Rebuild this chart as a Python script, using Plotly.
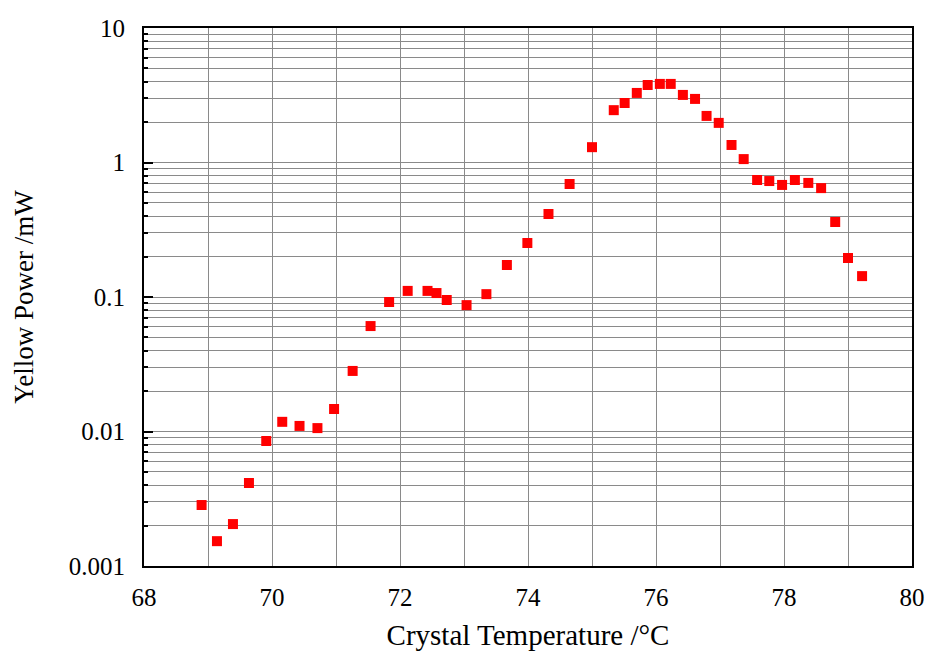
import plotly.graph_objects as go

temperature = [68.90, 69.14, 69.39, 69.64, 69.91, 70.16, 70.43, 70.71, 70.97, 71.26,
               71.54, 71.83, 72.12, 72.43, 72.57, 72.73, 73.04, 73.35, 73.67, 73.99,
               74.32, 74.65, 75.00, 75.34, 75.51, 75.70, 75.87, 76.06, 76.23, 76.42,
               76.61, 76.79, 76.98, 77.18, 77.37, 77.58, 77.77, 77.97, 78.17, 78.38,
               78.58, 78.80, 79.00, 79.22]
yellow_power = [0.00284, 0.00153, 0.00205, 0.00414, 0.0085, 0.0118, 0.0110, 0.0106, 0.0147, 0.0282,
                0.0608, 0.0918, 0.111, 0.111, 0.107, 0.095, 0.087, 0.105, 0.173, 0.252,
                0.414, 0.692, 1.30, 2.45, 2.77, 3.29, 3.77, 3.84, 3.84, 3.18,
                2.97, 2.22, 1.97, 1.35, 1.06, 0.741, 0.728, 0.681, 0.741, 0.705,
                0.645, 0.361, 0.195, 0.143]

x_ticks = [68, 70, 72, 74, 76, 78, 80]
y_ticks = [0.001, 0.01, 0.1, 1, 10]
y_tick_labels = ["0.001", "0.01", "0.1", "1", "10"]
y_minor = [m * 10 ** e for e in range(-3, 1) for m in range(2, 10)]

FONT = "Liberation Serif, Times New Roman, serif"

fig = go.Figure()
fig.add_trace(go.Scatter(
    x=temperature, y=yellow_power, mode="markers",
    marker=dict(symbol="square", size=10, color="#ff0000", line=dict(width=0)),
    showlegend=False,
))

fig.update_layout(
    width=930, height=655,
    margin=dict(l=144, r=18, t=28, b=89),
    paper_bgcolor="white", plot_bgcolor="white",
    font=dict(family=FONT, size=25, color="black"),
    xaxis=dict(
        range=[68, 80], tickvals=x_ticks, ticks="", automargin=False,
        showgrid=True, gridcolor="#8a8a8a", gridwidth=1,
        minor=dict(dtick=1, tick0=68, showgrid=True, gridcolor="#8a8a8a", gridwidth=1, ticks=""),
        showline=True, linecolor="black", linewidth=2, mirror=True,
        zeroline=False, ticklabelstandoff=8, ticklabeloverflow="allow",
        title=dict(text="Crystal Temperature /°C", font=dict(family=FONT, size=29), standoff=15),
    ),
    yaxis=dict(
        type="log", range=[-3, 1], tickvals=y_ticks, ticktext=y_tick_labels, automargin=False,
        ticks="inside", ticklen=9, tickwidth=1.5, tickcolor="black",
        showgrid=True, gridcolor="#8a8a8a", gridwidth=1,
        minor=dict(tickvals=y_minor, showgrid=True, gridcolor="#8a8a8a", gridwidth=1,
                   ticks="inside", ticklen=4, tickcolor="black", tickwidth=1.5),
        showline=True, linecolor="black", linewidth=2, mirror=True,
        zeroline=False, ticklabelstandoff=12,
        title=dict(text="Yellow Power /mW", font=dict(family=FONT, size=27), standoff=27),
    ),
)

fig.write_html("out.html", config={"displayModeBar": False},
               post_script="document.body.style.margin='0px';")
